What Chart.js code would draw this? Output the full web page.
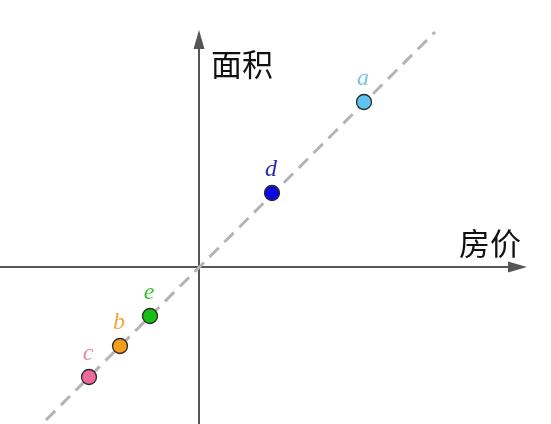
<!DOCTYPE html>
<html>
<head>
<meta charset="utf-8">
<script src="https://cdn.jsdelivr.net/npm/chart.js@4"></script>
<style>
html,body{margin:0;padding:0;background:#fff;}
#wrap{width:551px;height:424px;}
</style>
</head>
<body>
<div id="wrap"><canvas id="c" width="551" height="424"></canvas></div>
<script>
// Data (units: arbitrary)
const pointNames = ['a', 'd', 'e', 'b', 'c'];
const priceVals = [16.5, 7.3, -4.9, -7.9, -11.0];
const areaVals  = [16.5, 7.4, -4.9, -7.9, -11.0];
const pointColors = ['#5fc3f2', '#0a0ae0', '#16c016', '#f59c1a', '#ef6a9a'];
const labelColors = ['#7cc4e4', '#2a2aa8', '#3cbf3c', '#f3aa3c', '#e38ab4'];
const trendX = [-15.3, 23.6];
const trendY = [-15.3, 23.5];
const axisTitles = ['房价', '面积'];
const xRange = [-19.9, 35.2];
const yRange = [-15.7, 26.7];
const xAxisEnd = 32.8;
const yAxisEnd = 23.7;

const axesPlugin = {
  id: 'axes',
  beforeDatasetsDraw(chart) {
    const ctx = chart.ctx, xs = chart.scales.x, ys = chart.scales.y;
    const ox = xs.getPixelForValue(0), oy = ys.getPixelForValue(0);
    const xl = xs.getPixelForValue(xRange[0]), xr = xs.getPixelForValue(xAxisEnd);
    const yb = ys.getPixelForValue(yRange[0]), yt = ys.getPixelForValue(yAxisEnd);
    ctx.save();
    ctx.strokeStyle = '#555';
    ctx.fillStyle = '#555';
    ctx.lineWidth = 2;
    ctx.beginPath();
    ctx.moveTo(xl, oy); ctx.lineTo(xr - 10, oy);
    ctx.moveTo(ox, yb); ctx.lineTo(ox, yt + 10);
    ctx.stroke();
    // arrowheads
    ctx.beginPath();
    ctx.moveTo(xr, oy); ctx.lineTo(xr - 19, oy - 5.5); ctx.lineTo(xr - 19, oy + 5.5); ctx.closePath();
    ctx.fill();
    ctx.beginPath();
    ctx.moveTo(ox, yt); ctx.lineTo(ox - 5.5, yt + 19); ctx.lineTo(ox + 5.5, yt + 19); ctx.closePath();
    ctx.fill();
    // axis titles
    ctx.fillStyle = '#111';
    ctx.font = '31px "Noto Sans CJK SC"';
    ctx.textBaseline = 'middle';
    ctx.textAlign = 'right';
    ctx.fillText(axisTitles[0], xr - 6, oy - 24);
    ctx.textAlign = 'left';
    ctx.fillText(axisTitles[1], ox + 12, yt + 34);
    ctx.restore();
  },
  afterDatasetsDraw(chart) {
    const ctx = chart.ctx, xs = chart.scales.x, ys = chart.scales.y;
    ctx.save();
    ctx.font = 'italic 24px "Liberation Serif"';
    ctx.textAlign = 'center';
    ctx.textBaseline = 'alphabetic';
    pointNames.forEach((n, i) => {
      ctx.fillStyle = labelColors[i];
      ctx.fillText(n, xs.getPixelForValue(priceVals[i]) - 1, ys.getPixelForValue(areaVals[i]) - 17);
    });
    ctx.restore();
  }
};

new Chart(document.getElementById('c'), {
  type: 'scatter',
  data: {
    datasets: [
      {
        data: priceVals.map((x, i) => ({x, y: areaVals[i]})),
        pointRadius: 7.5,
        pointHoverRadius: 7.5,
        pointBackgroundColor: pointColors,
        pointBorderColor: '#2a2a2a',
        pointBorderWidth: 1.3,
        showLine: false,
        order: 0
      },
      {
        data: trendX.map((x, i) => ({x, y: trendY[i]})),
        showLine: true,
        borderColor: '#b4b4b4',
        borderWidth: 3,
        borderDash: [13, 8],
        pointRadius: 0,
        order: 1
      }
    ]
  },
  options: {
    responsive: false,
    animation: false,
    layout: {padding: 0, autoPadding: false},
    plugins: {legend: {display: false}, tooltip: {enabled: false}},
    scales: {
      x: {type: 'linear', min: xRange[0], max: xRange[1], display: false},
      y: {type: 'linear', min: yRange[0], max: yRange[1], display: false}
    }
  },
  plugins: [axesPlugin]
});
</script>
</body>
</html>
